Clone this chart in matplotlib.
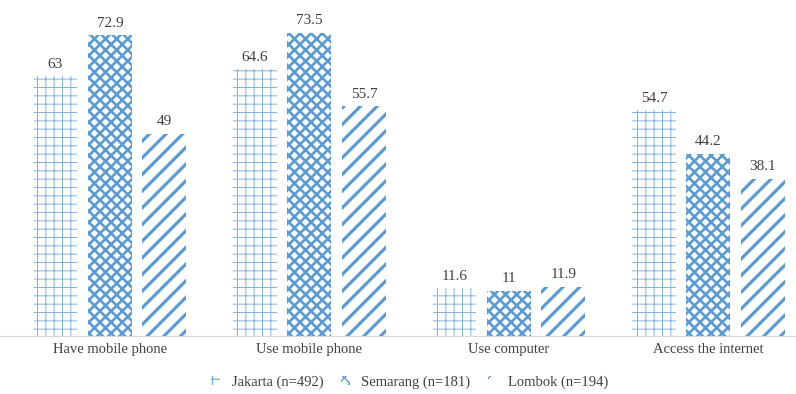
import numpy as np
import matplotlib
matplotlib.use("Agg")
import matplotlib.pyplot as plt

categories = ["Have mobile phone", "Use mobile phone", "Use computer", "Access the internet"]
series_names = ["Jakarta (n=492)", "Semarang (n=181)", "Lombok (n=194)"]
jakarta = [63, 64.6, 11.6, 54.7]
semarang = [72.9, 73.5, 11, 44.2]
lombok = [49, 55.7, 11.9, 38.1]

plt.rcParams["font.family"] = ["Liberation Serif", "DejaVu Serif"]
blue = "#5B9BD5"
text_col = "#404040"

fig = plt.figure(figsize=(7.96, 3.94), dpi=100)
ax = fig.add_axes([0, 0.147, 1, 0.838])

x = np.arange(len(categories))
width = 0.22
step = 0.273
# hatch, hatch line width, colour per series
styles = [("++", 0.7, "#7FB2E0"), ("xxx", 1.9, blue), ("//", 2.3, blue)]

for i, (vals, name) in enumerate(zip([jakarta, semarang, lombok], series_names)):
    hatch, lw, col = styles[i]
    with plt.rc_context({"hatch.linewidth": lw, "hatch.color": col}):
        bars = ax.bar(x + (i - 1) * step, vals, width, facecolor="white",
                      edgecolor=col, hatch=hatch, linewidth=0, label=name)
    ax.bar_label(bars, labels=[f"{v:g}" for v in vals], padding=4,
                 fontsize=11, color=text_col)

ax.set_xlim(-0.551, 3.439)
ax.set_ylim(0, 80)
ax.set_xticks(x)
ax.set_xticklabels(categories, fontsize=10.5, color=text_col)
ax.tick_params(axis="x", length=0, pad=5)
ax.set_yticks([])
for s in ["left", "right", "top"]:
    ax.spines[s].set_visible(False)
ax.spines["bottom"].set_color("#D9D9D9")

fig.legend(loc="center", bbox_to_anchor=(0.515, 0.03), ncol=3, frameon=False,
           fontsize=10.5, handlelength=0.6, handleheight=0.6, columnspacing=1.2,
           handletextpad=0.8, labelcolor=text_col)

fig.savefig("out.png", dpi=100)
